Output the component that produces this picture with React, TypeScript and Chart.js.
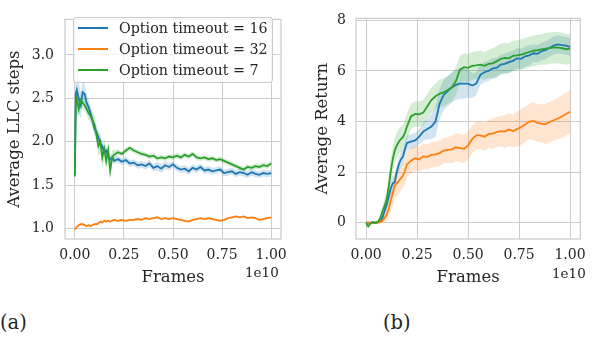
import React, { useEffect, useRef } from "react";
import { Chart, registerables } from "chart.js";

Chart.register(...registerables);

// ---------- data ----------
const FRAMES = [0, 0.005, 0.01, 0.02, 0.03, 0.04, 0.05, 0.06, 0.07, 0.08, 0.09, 0.1, 0.11, 0.12, 0.13, 0.14, 0.15, 0.16, 0.17, 0.18, 0.19, 0.2,
  0.22, 0.24, 0.26, 0.28, 0.3, 0.32, 0.34, 0.36, 0.38, 0.4,
  0.42, 0.44, 0.46, 0.48, 0.5, 0.52, 0.54, 0.56, 0.58, 0.6,
  0.62, 0.64, 0.66, 0.68, 0.7, 0.72, 0.74, 0.76, 0.78, 0.8,
  0.82, 0.84, 0.86, 0.88, 0.9, 0.92, 0.94, 0.96, 0.98, 1.0];

const SERIES_LABELS = ["Option timeout = 16", "Option timeout = 32", "Option timeout = 7"];

// Panel (a): Average LLC steps
const LLC_16 = [1.62, 2.55, 2.6, 2.5, 2.42, 2.57, 2.55, 2.45, 2.4, 2.33, 2.25, 2.15, 2.12, 2.05, 1.98, 1.95, 1.88, 1.9, 1.84, 1.8, 1.82, 1.78,
  1.8, 1.77, 1.79, 1.75, 1.76, 1.73, 1.74, 1.72, 1.75, 1.7,
  1.72, 1.69, 1.73, 1.71, 1.74, 1.7, 1.68, 1.69, 1.66, 1.7,
  1.68, 1.71, 1.67, 1.68, 1.66, 1.67, 1.68, 1.64, 1.65, 1.66,
  1.63, 1.65, 1.64, 1.62, 1.65, 1.63, 1.62, 1.64, 1.63, 1.64];
const LLC_16_SPREAD = [0.02, 0.35, 0.3, 0.18, 0.15, 0.14, 0.12, 0.1, 0.09, 0.08, 0.07, 0.07, 0.06, 0.06, 0.06, 0.05, 0.05, 0.05, 0.05, 0.05, 0.04, 0.04,
  0.04, 0.04, 0.04, 0.04, 0.04, 0.04, 0.04, 0.04, 0.04, 0.04,
  0.05, 0.05, 0.05, 0.04, 0.04, 0.04, 0.04, 0.04, 0.04, 0.04,
  0.04, 0.04, 0.04, 0.04, 0.04, 0.04, 0.04, 0.04, 0.04, 0.04,
  0.04, 0.04, 0.04, 0.04, 0.04, 0.04, 0.04, 0.04, 0.04, 0.04];

const LLC_32 = [0.99, 1.0, 1.02, 1.04, 1.05, 1.05, 1.04, 1.03, 1.04, 1.03, 1.04, 1.05, 1.05, 1.06, 1.08, 1.07, 1.09, 1.08, 1.09, 1.08, 1.09, 1.1,
  1.09, 1.1, 1.09, 1.1, 1.1, 1.11, 1.1, 1.12, 1.11, 1.12,
  1.13, 1.11, 1.12, 1.11, 1.12, 1.11, 1.1, 1.09, 1.08, 1.1,
  1.11, 1.12, 1.11, 1.12, 1.11, 1.1, 1.09, 1.1, 1.12, 1.13,
  1.14, 1.13, 1.14, 1.12, 1.13, 1.12, 1.1, 1.11, 1.12, 1.13];
const LLC_32_SPREAD = [0.01, 0.01, 0.01, 0.01, 0.01, 0.01, 0.01, 0.01, 0.01, 0.01, 0.01, 0.01, 0.01, 0.01, 0.01, 0.01, 0.01, 0.01, 0.01, 0.01, 0.01, 0.01,
  0.01, 0.01, 0.01, 0.01, 0.01, 0.01, 0.01, 0.01, 0.01, 0.01,
  0.01, 0.01, 0.01, 0.01, 0.01, 0.01, 0.01, 0.01, 0.01, 0.01,
  0.01, 0.01, 0.01, 0.01, 0.01, 0.01, 0.01, 0.01, 0.01, 0.01,
  0.01, 0.01, 0.01, 0.01, 0.01, 0.01, 0.01, 0.01, 0.01, 0.01];

const LLC_7 = [1.6, 2.45, 2.5, 2.38, 2.48, 2.45, 2.42, 2.38, 2.33, 2.3, 2.25, 2.2, 2.08, 1.95, 2.0, 1.82, 1.92, 1.78, 1.9, 1.67, 1.82, 1.85,
  1.88, 1.86, 1.9, 1.93, 1.9, 1.88, 1.86, 1.85, 1.83, 1.84,
  1.81, 1.82, 1.81, 1.83, 1.82, 1.84, 1.82, 1.85, 1.83, 1.86,
  1.82, 1.81, 1.82, 1.8, 1.81, 1.79, 1.8, 1.78, 1.76, 1.74,
  1.72, 1.7, 1.68, 1.71, 1.7, 1.72, 1.71, 1.73, 1.72, 1.75];
const LLC_7_SPREAD = [0.02, 0.12, 0.1, 0.08, 0.08, 0.07, 0.07, 0.07, 0.08, 0.08, 0.09, 0.1, 0.1, 0.12, 0.12, 0.12, 0.12, 0.1, 0.1, 0.1, 0.08, 0.06,
  0.03, 0.03, 0.03, 0.03, 0.03, 0.03, 0.03, 0.03, 0.03, 0.03,
  0.03, 0.03, 0.03, 0.03, 0.03, 0.03, 0.03, 0.03, 0.03, 0.03,
  0.03, 0.03, 0.03, 0.03, 0.03, 0.03, 0.03, 0.03, 0.03, 0.03,
  0.03, 0.03, 0.03, 0.03, 0.03, 0.03, 0.03, 0.03, 0.03, 0.03];

// Panel (b): Average Return
const RET_16 = [0, 0, 0, -0.02, 0, 0.02, 0, 0.02, 0.05, 0.2, 0.45, 0.7, 1.0, 1.35, 1.55, 1.6, 2.0, 2.3, 2.5, 2.6, 2.9, 3.15,
  3.2, 3.25, 3.4, 3.6, 3.7, 3.8, 4.0, 4.7, 5.05, 5.2,
  5.35, 5.45, 5.5, 5.5, 5.5, 5.42, 5.5, 5.85, 5.95, 6.0,
  6.1, 6.12, 6.25, 6.28, 6.35, 6.4, 6.5, 6.48, 6.58, 6.62,
  6.7, 6.68, 6.78, 6.82, 6.92, 7.0, 7.05, 7.02, 7.0, 6.95];
const RET_16_SPREAD = [0.02, 0.02, 0.02, 0.02, 0.02, 0.02, 0.02, 0.02, 0.05, 0.1, 0.15, 0.2, 0.25, 0.3, 0.3, 0.3, 0.3, 0.3, 0.3, 0.3, 0.3, 0.3,
  0.3, 0.3, 0.3, 0.35, 0.4, 0.5, 0.6, 0.6, 0.6, 0.6,
  0.6, 0.6, 0.6, 0.6, 0.55, 0.5, 0.45, 0.4, 0.4, 0.4,
  0.4, 0.4, 0.4, 0.4, 0.4, 0.4, 0.4, 0.4, 0.4, 0.4,
  0.35, 0.35, 0.35, 0.35, 0.35, 0.35, 0.35, 0.35, 0.35, 0.35];

const RET_32 = [0, 0, 0, 0, 0, 0, 0, 0, 0.02, 0.08, 0.18, 0.3, 0.55, 0.85, 1.15, 1.45, 1.55, 1.65, 1.75, 1.85, 2.05, 2.3,
  2.45, 2.55, 2.5, 2.62, 2.6, 2.68, 2.7, 2.75, 2.85, 2.88,
  2.9, 2.98, 2.95, 2.92, 3.05, 3.3, 3.45, 3.45, 3.4, 3.5,
  3.52, 3.58, 3.62, 3.6, 3.68, 3.62, 3.7, 3.78, 3.88, 4.0,
  4.02, 3.95, 3.92, 3.9, 3.98, 4.05, 4.12, 4.2, 4.3, 4.38];
const RET_32_SPREAD = [0.02, 0.02, 0.02, 0.02, 0.02, 0.02, 0.02, 0.02, 0.05, 0.1, 0.15, 0.25, 0.35, 0.45, 0.5, 0.5, 0.5, 0.5, 0.5, 0.5, 0.5, 0.5,
  0.5, 0.5, 0.5, 0.5, 0.5, 0.5, 0.5, 0.5, 0.5, 0.5,
  0.55, 0.55, 0.55, 0.55, 0.55, 0.55, 0.55, 0.55, 0.55, 0.55,
  0.6, 0.6, 0.6, 0.65, 0.65, 0.65, 0.7, 0.7, 0.7, 0.7,
  0.75, 0.75, 0.75, 0.8, 0.8, 0.8, 0.8, 0.85, 0.85, 0.85];

const RET_7 = [0, -0.1, -0.15, -0.05, 0.02, -0.02, 0, 0.05, 0.2, 0.45, 0.65, 0.9, 1.4, 2.0, 2.5, 2.85, 3.05, 3.2, 3.3, 3.38, 3.55, 3.8,
  4.2, 4.3, 4.28, 4.35, 4.6, 4.85, 5.0, 5.1, 5.15, 5.25,
  5.35, 5.6, 6.05, 6.15, 6.12, 6.2, 6.22, 6.25, 6.2, 6.28,
  6.3, 6.38, 6.48, 6.52, 6.5, 6.6, 6.62, 6.65, 6.7, 6.75,
  6.8, 6.82, 6.85, 6.88, 6.9, 6.93, 6.92, 6.9, 6.86, 6.88];
const RET_7_SPREAD = [0.02, 0.08, 0.1, 0.06, 0.05, 0.05, 0.05, 0.08, 0.15, 0.2, 0.3, 0.35, 0.4, 0.45, 0.5, 0.5, 0.5, 0.5, 0.5, 0.5, 0.5, 0.5,
  0.5, 0.5, 0.5, 0.5, 0.5, 0.5, 0.5, 0.55, 0.55, 0.55,
  0.55, 0.55, 0.55, 0.55, 0.55, 0.55, 0.55, 0.55, 0.55, 0.55,
  0.6, 0.6, 0.6, 0.6, 0.6, 0.6, 0.6, 0.6, 0.6, 0.6,
  0.6, 0.6, 0.6, 0.62, 0.62, 0.62, 0.62, 0.62, 0.6, 0.6];

const X_TICKS = [0, 0.25, 0.5, 0.75, 1.0];
const LLC_TICKS = [1.0, 1.5, 2.0, 2.5, 3.0];
const RET_TICKS = [0, 2, 4, 6, 8];

// ---------- styling ----------
const COLORS = ["#1f77b4", "#ff7f0e", "#2ca02c"];
const FILLS = ["rgba(31,119,180,0.2)", "rgba(255,127,14,0.2)", "rgba(44,160,44,0.2)"];
const LINE_ORDER = [2, 1, 0];
const TEXT = "#262626";
const GRID = "#cccccc";
const FONT = "'DejaVu Serif', serif";

function buildDatasets(means: number[][], spreads: number[][]) {
  const ds: any[] = [];
  means.forEach((m, s) => {
    const lowerIndex = ds.length;
    ds.push({
      data: FRAMES.map((x, i) => ({ x, y: m[i] - spreads[s][i] })),
      borderWidth: 0, borderColor: "rgba(0,0,0,0)", pointRadius: 0, fill: false,
      order: 10 + LINE_ORDER[s],
    });
    ds.push({
      data: FRAMES.map((x, i) => ({ x, y: m[i] + spreads[s][i] })),
      borderWidth: 0, borderColor: "rgba(0,0,0,0)", backgroundColor: FILLS[s], pointRadius: 0,
      fill: lowerIndex, order: 10 + LINE_ORDER[s],
    });
  });
  means.forEach((m, s) => {
    ds.push({
      label: SERIES_LABELS[s],
      data: FRAMES.map((x, i) => ({ x, y: m[i] })),
      borderColor: COLORS[s], borderWidth: 1.8, pointRadius: 0, fill: false, tension: 0,
      order: LINE_ORDER[s],
    });
  });
  return ds;
}

const framePlugin = {
  id: "frame",
  beforeDatasetsDraw(chart: any) {
    const { ctx, chartArea: a } = chart;
    ctx.save();
    ctx.strokeStyle = GRID;
    ctx.lineWidth = 1.25;
    ctx.strokeRect(a.left, a.top, a.right - a.left, a.bottom - a.top);
    ctx.restore();
  },
};

function makeOptions(p: {
  yTicks: number[]; yMin: number; yMax: number; yTitle: string; yWidth: number;
  yTitlePad: number; yTickPad: number; yDecimals: number; padding: any;
}) {
  return {
    animation: false,
    responsive: false,
    devicePixelRatio: 1,
    layout: { padding: p.padding },
    plugins: { legend: { display: false }, tooltip: { enabled: false } },
    scales: {
      x: {
        type: "linear",
        min: -0.05,
        max: 1.05,
        afterBuildTicks: (s: any) => { s.ticks = X_TICKS.map((v) => ({ value: v })); },
        afterFit: (s: any) => { s.height = 61; },
        grid: { color: GRID, lineWidth: 1, drawTicks: false },
        border: { display: false },
        ticks: {
          color: TEXT, font: { family: FONT, size: 14 }, padding: 8, maxRotation: 0, autoSkip: false,
          callback: (v: any) => Number(v).toFixed(2),
        },
        title: {
          display: true, text: "Frames", color: TEXT, font: { family: FONT, size: 16.5 },
          padding: { top: 0, bottom: 12 },
        },
      },
      y: {
        type: "linear",
        min: p.yMin,
        max: p.yMax,
        afterBuildTicks: (s: any) => { s.ticks = p.yTicks.map((v) => ({ value: v })); },
        afterFit: (s: any) => { s.width = p.yWidth; },
        grid: { color: GRID, lineWidth: 1, drawTicks: false },
        border: { display: false },
        ticks: {
          color: TEXT, font: { family: FONT, size: 14 }, padding: p.yTickPad, autoSkip: false,
          callback: (v: any) => Number(v).toFixed(p.yDecimals),
        },
        title: {
          display: true, text: p.yTitle, color: TEXT, font: { family: FONT, size: 16.5 },
          padding: { top: p.yTitlePad, bottom: 0 },
        },
      },
    },
  };
}

const textStyle: React.CSSProperties = {
  position: "absolute", fontFamily: FONT, color: TEXT, whiteSpace: "nowrap", lineHeight: 1,
};

export default function App() {
  const leftRef = useRef<HTMLCanvasElement | null>(null);
  const rightRef = useRef<HTMLCanvasElement | null>(null);

  useEffect(() => {
    const c1 = new Chart(leftRef.current as HTMLCanvasElement, {
      type: "line",
      data: { datasets: buildDatasets([LLC_16, LLC_32, LLC_7], [LLC_16_SPREAD, LLC_32_SPREAD, LLC_7_SPREAD]) },
      options: makeOptions({
        yTicks: LLC_TICKS, yMin: 0.88, yMax: 3.41, yTitle: "Average LLC steps", yWidth: 65,
        yTitlePad: 5, yTickPad: 11, yDecimals: 1, padding: { left: 0, right: 16, top: 9, bottom: 0 },
      }) as any,
      plugins: [framePlugin],
    });
    const c2 = new Chart(rightRef.current as HTMLCanvasElement, {
      type: "line",
      data: { datasets: buildDatasets([RET_16, RET_32, RET_7], [RET_16_SPREAD, RET_32_SPREAD, RET_7_SPREAD]) },
      options: makeOptions({
        yTicks: RET_TICKS, yMin: -0.65, yMax: 8.08, yTitle: "Average Return", yWidth: 59,
        yTitlePad: 16, yTickPad: 10, yDecimals: 0, padding: { left: 0, right: 8, top: 12, bottom: 0 },
      }) as any,
      plugins: [framePlugin],
    });
    return () => { c1.destroy(); c2.destroy(); };
  }, []);

  const legendRowTops = [18, 39, 60];

  return (
    <div style={{ position: "fixed", left: 0, top: 0, width: 594, height: 338, background: "#fff", overflow: "hidden" }}>
      <canvas ref={leftRef} width={297} height={300} style={{ position: "absolute", left: 0, top: 0, width: 297, height: 300 }} />
      <canvas ref={rightRef} width={297} height={300} style={{ position: "absolute", left: 297, top: 0, width: 297, height: 300 }} />

      {/* legend for panel (a) */}
      <div style={{
        position: "absolute", left: 73, top: 17, width: 200, height: 66, boxSizing: "border-box",
        border: "1px solid #cccccc", borderRadius: 3, background: "rgba(255,255,255,0.8)",
      }} />
      {SERIES_LABELS.map((lab, i) => (
        <div key={lab} style={{ position: "absolute", left: 78, top: legendRowTops[i], height: 20, display: "flex", alignItems: "center" }}>
          <div style={{ width: 30, height: 2, background: COLORS[i] }} />
          <div style={{ marginLeft: 11, fontFamily: FONT, fontSize: 14.3, color: TEXT, lineHeight: "20px", whiteSpace: "nowrap" }}>{lab}</div>
        </div>
      ))}

      {/* offset texts */}
      <div style={{ ...textStyle, left: 245, top: 266, fontSize: 13.5 }}>1e10</div>
      <div style={{ ...textStyle, left: 552, top: 267, fontSize: 13.5 }}>1e10</div>

      {/* subfigure captions */}
      <div style={{ ...textStyle, left: 0, top: 313, fontSize: 19.5 }}>(a)</div>
      <div style={{ ...textStyle, left: 383, top: 313, fontSize: 19.5 }}>(b)</div>
    </div>
  );
}
